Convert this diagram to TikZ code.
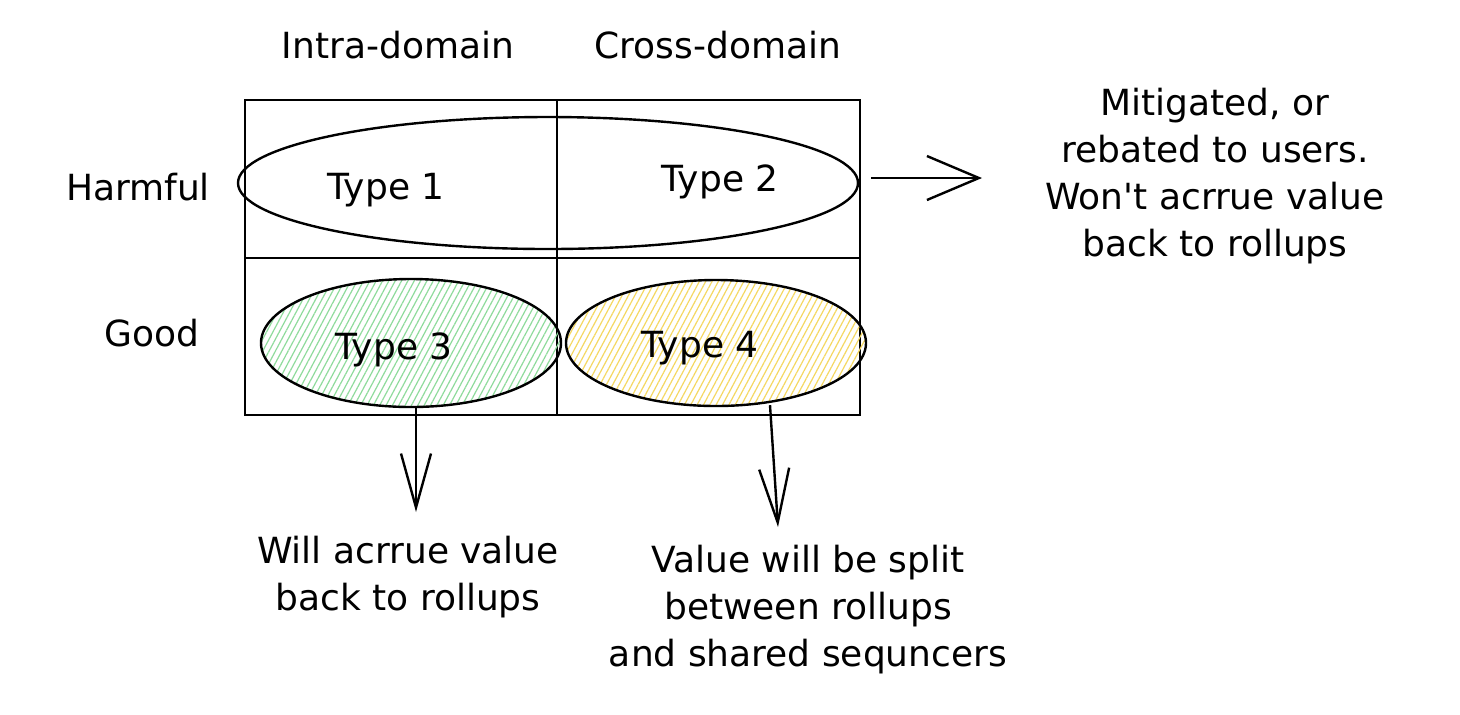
\documentclass[tikz,border=0pt]{standalone}
\usepackage{fontspec}
\setmainfont{DejaVu Sans}
\usetikzlibrary{arrows.meta,shapes.geometric,patterns.meta}
\definecolor{hgreen}{HTML}{8FDB9C}
\definecolor{hyellow}{HTML}{F5D862}
\begin{document}
\begin{tikzpicture}[x=0.5pt,y=-0.5pt,
  lbl/.style={font=\fontsize{18pt}{23.5pt}\selectfont, align=center, inner sep=0pt},
  ring/.style={ellipse, draw, line width=1.2pt, inner sep=0pt},
  arr/.style={line width=1.2pt, -{Straight Barb[length=26pt,width=22pt,line width=1.2pt]}},
  darr/.style={line width=1.2pt, -{Straight Barb[length=27pt,width=15pt,line width=1.2pt]}},
  grn/.style={pattern={Lines[angle=62,distance=2.8pt,line width=0.6pt]}, pattern color=hgreen},
  ylw/.style={pattern={Lines[angle=62,distance=2.8pt,line width=0.6pt]}, pattern color=hyellow}]
\useasboundingbox (0,0) rectangle (1460,714);
\fill[white] (0,0) rectangle (1460,714);

% grid
\node[draw, line width=1.2pt, minimum width=307.5pt, minimum height=157.5pt, inner sep=0pt] (grid) at (552.5,257.5) {};
\draw[line width=1.2pt] (557,100) -- (557,415);
\draw[line width=1.2pt] (245,258) -- (860,258);

% headers
\node[lbl] (intra) at (398,45) {Intra-domain};
\node[lbl] (cross) at (718,45) {Cross-domain};
\node[lbl] (harm) at (138,187) {Harmful};
\node[lbl] (good) at (152,333) {Good};

% ellipses
\node[ring, minimum width=310pt, minimum height=66pt] (big) at (548,183) {};
\node[ring, grn, minimum width=150pt, minimum height=64pt] (e3) at (411,343) {};
\node[ring, ylw, minimum width=150pt, minimum height=63pt] (e4) at (716,343) {};

\node[lbl] (t1) at (386,190) {Type 1};
\node[lbl] (t2) at (720,182) {Type 2};
\node[lbl] (t3) at (394,350) {Type 3};
\node[lbl] (t4) at (700,348) {Type 4};

% outcome texts
\node[lbl] (mit) at (1215,176) {Mitigated, or\\rebated to users.\\Won\textquotesingle t acrrue value\\back to rollups};
\node[lbl] (will) at (408,577) {Will acrrue value\\back to rollups};
\node[lbl] (split) at (808,610) {Value will be split\\between rollups\\and shared sequncers};

% arrows
\coordinate (r2) at (982,178);
\coordinate (d1) at (416,512);
\coordinate (d2) at (778,527);
\draw[arr] ([shift={(12,-5)}]big.east) -- (r2);
\draw[darr] ([xshift=2.5pt]e3.south) -- (d1);
\draw[darr] ([shift={(54,-2)}]e4.south) -- (d2);
\end{tikzpicture}
\end{document}
